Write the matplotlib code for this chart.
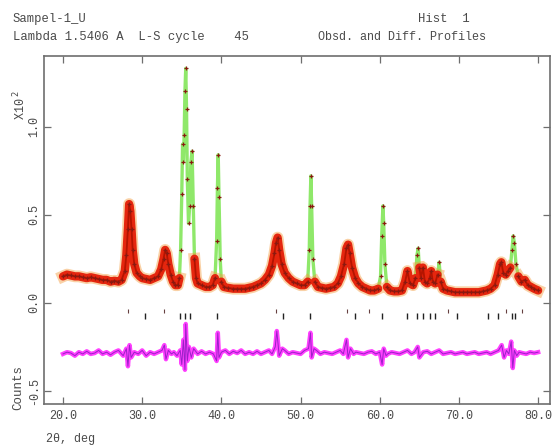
import numpy as np
import matplotlib
matplotlib.use("Agg")
import matplotlib.pyplot as plt

# ---- data (2theta in deg, intensity in units of 10^2 counts) ----
obs_tt = [20.0, 20.5, 21.0, 21.5, 22.0, 22.5, 23.0, 23.5, 24.0, 24.5, 25.0, 25.5, 26.0, 26.5, 27.0, 27.4,
          27.8, 28.0, 28.2, 28.35, 28.5, 28.65, 28.8, 29.0, 29.3, 29.7, 30.0, 30.5, 31.0, 31.5, 32.0, 32.4,
          32.7, 32.9, 33.1, 33.3, 33.6, 33.9, 34.2, 34.5, 34.7, 34.85, 35.0, 35.1, 35.2, 35.3, 35.4, 35.5,
          35.6, 35.7, 35.85, 36.0, 36.15, 36.3, 36.45, 36.6, 36.8, 37.0, 37.5, 38.0, 38.5, 38.9, 39.2, 39.4,
          39.5, 39.6, 39.7, 39.85, 40.0, 40.3, 40.8, 41.5, 42.0, 42.5, 43.0, 43.5, 44.0, 44.5, 45.0, 45.5,
          46.0, 46.4, 46.7, 46.9, 47.1, 47.3, 47.6, 48.0, 48.5, 49.0, 49.5, 50.0, 50.5, 50.9, 51.1, 51.2,
          51.3, 51.4, 51.55, 51.8, 52.2, 52.7, 53.2, 53.7, 54.2, 54.7, 55.1, 55.5, 55.8, 56.0, 56.2, 56.5,
          56.9, 57.3, 57.8, 58.3, 58.8, 59.3, 59.8, 60.1, 60.25, 60.4, 60.5, 60.65, 60.9, 61.3, 61.8, 62.3,
          62.8, 63.2, 63.5, 63.8, 64.2, 64.5, 64.7, 64.85, 65.0, 65.2, 65.45, 65.7, 66.0, 66.3, 66.5, 66.7,
          67.0, 67.3, 67.5, 67.7, 68.0, 68.5, 69.0, 69.5, 70.0, 70.5, 71.0, 71.5, 72.0, 72.5, 73.0, 73.5,
          74.0, 74.5, 74.9, 75.2, 75.35, 75.6, 75.9, 76.2, 76.5, 76.7, 76.85, 77.0, 77.2, 77.5, 77.9, 78.3,
          78.7, 79.1, 79.5, 80.0]
obs_y = [0.15, 0.16, 0.155, 0.15, 0.15, 0.145, 0.14, 0.145, 0.14, 0.135, 0.13, 0.13, 0.12, 0.125, 0.12, 0.13,
         0.18, 0.27, 0.42, 0.56, 0.52, 0.42, 0.30, 0.22, 0.17, 0.15, 0.14, 0.135, 0.13, 0.14, 0.15, 0.19,
         0.25, 0.30, 0.28, 0.22, 0.16, 0.12, 0.10, 0.10, 0.14, 0.30, 0.62, 0.90, 0.80, 0.95, 1.20, 1.33,
         1.10, 0.70, 0.45, 0.55, 0.80, 0.86, 0.55, 0.25, 0.14, 0.11, 0.10, 0.09, 0.09, 0.10, 0.14, 0.35,
         0.65, 0.84, 0.60, 0.25, 0.12, 0.09, 0.085, 0.08, 0.08, 0.08, 0.08, 0.085, 0.09, 0.10, 0.11, 0.13,
         0.16, 0.21, 0.28, 0.34, 0.37, 0.30, 0.22, 0.17, 0.14, 0.12, 0.11, 0.10, 0.10, 0.12, 0.30, 0.55,
         0.72, 0.55, 0.25, 0.12, 0.09, 0.085, 0.08, 0.085, 0.09, 0.11, 0.15, 0.22, 0.31, 0.33, 0.28, 0.20,
         0.14, 0.11, 0.09, 0.08, 0.07, 0.07, 0.08, 0.15, 0.38, 0.55, 0.45, 0.22, 0.09, 0.07, 0.065, 0.065,
         0.07, 0.12, 0.18, 0.11, 0.10, 0.14, 0.27, 0.31, 0.20, 0.14, 0.20, 0.12, 0.11, 0.14, 0.18, 0.12,
         0.11, 0.16, 0.23, 0.12, 0.08, 0.07, 0.065, 0.06, 0.06, 0.06, 0.06, 0.06, 0.06, 0.06, 0.065, 0.07,
         0.08, 0.10, 0.16, 0.22, 0.23, 0.17, 0.16, 0.18, 0.20, 0.30, 0.38, 0.34, 0.22, 0.15, 0.12, 0.13,
         0.10, 0.09, 0.08, 0.07]

# sharp (well-resolved) peak regions shown as calculated green line with sparse crosses
sharp_ranges = [(34.6, 36.7), (39.1, 40.1), (50.8, 51.9), (59.9, 60.9), (64.4, 65.1), (67.2, 67.8), (76.4, 77.4)]

diff_tt = [20.0, 20.5, 21.0, 21.5, 22.0, 22.5, 23.0, 23.5, 24.0, 24.5, 25.0, 25.5, 26.0, 26.5, 27.0, 27.6,
           28.0, 28.2, 28.4, 28.6, 29.0, 29.5, 30.0, 30.5, 31.0, 31.5, 32.0, 32.5, 32.8, 33.0, 33.3, 33.7,
           34.0, 34.4, 34.8, 35.0, 35.2, 35.4, 35.5, 35.7, 35.9, 36.2, 36.5, 37.0, 37.5, 38.0, 38.5, 39.0,
           39.4, 39.55, 39.7, 40.0, 40.5, 41.0, 41.5, 42.0, 42.5, 43.0, 43.5, 44.0, 44.5, 45.0, 45.5, 46.0,
           46.4, 46.8, 47.0, 47.3, 47.7, 48.0, 48.5, 49.0, 49.5, 50.0, 50.5, 51.0, 51.25, 51.4, 51.7, 52.0,
           52.5, 53.0, 53.5, 54.0, 54.5, 55.0, 55.4, 55.8, 56.0, 56.3, 56.7, 57.0, 57.5, 58.0, 58.5, 59.0,
           59.5, 60.0, 60.3, 60.5, 60.8, 61.0, 61.5, 62.0, 62.5, 63.0, 63.5, 64.0, 64.4, 64.8, 65.0, 65.5,
           66.0, 66.5, 67.0, 67.5, 68.0, 68.5, 69.0, 69.5, 70.0, 70.5, 71.0, 71.5, 72.0, 72.5, 73.0, 73.5,
           74.0, 74.5, 75.0, 75.4, 75.7, 76.0, 76.3, 76.6, 76.8, 77.0, 77.3, 77.6, 78.0, 78.5, 79.0, 79.5,
           80.0]
diff_y = [-0.29, -0.28, -0.285, -0.30, -0.28, -0.29, -0.275, -0.29, -0.285, -0.27, -0.29, -0.28, -0.295, -0.28, -0.27, -0.30,
          -0.26, -0.36, -0.24, -0.31, -0.28, -0.29, -0.27, -0.30, -0.28, -0.29, -0.28, -0.27, -0.24, -0.32, -0.27, -0.29,
          -0.28, -0.30, -0.27, -0.35, -0.21, -0.38, -0.12, -0.33, -0.25, -0.31, -0.26, -0.29, -0.275, -0.29, -0.28, -0.29,
          -0.33, -0.17, -0.31, -0.28, -0.27, -0.29, -0.275, -0.285, -0.27, -0.29, -0.28, -0.29, -0.275, -0.29, -0.28, -0.27,
          -0.29, -0.25, -0.16, -0.30, -0.26, -0.27, -0.29, -0.28, -0.285, -0.29, -0.27, -0.26, -0.17, -0.31, -0.26, -0.27,
          -0.29, -0.28, -0.285, -0.29, -0.28, -0.27, -0.29, -0.21, -0.31, -0.26, -0.29, -0.28, -0.285, -0.29, -0.28, -0.275,
          -0.29, -0.28, -0.35, -0.26, -0.30, -0.29, -0.28, -0.285, -0.29, -0.28, -0.27, -0.29, -0.28, -0.25, -0.31, -0.28,
          -0.275, -0.29, -0.28, -0.27, -0.29, -0.285, -0.28, -0.29, -0.285, -0.28, -0.29, -0.285, -0.28, -0.29, -0.285, -0.28,
          -0.29, -0.28, -0.27, -0.24, -0.31, -0.27, -0.29, -0.22, -0.37, -0.27, -0.30, -0.28, -0.285, -0.29, -0.28, -0.285,
          -0.28]

refl_a = [28.2, 32.8, 46.9, 55.9, 58.6, 68.6, 75.9, 78.0]
refl_b = [30.4, 34.8, 35.4, 36.1, 39.5, 47.8, 51.2, 56.9, 60.3, 63.5, 64.7, 65.5, 66.4, 67.0, 69.8, 73.7, 74.9, 76.7, 77.1]

xticks = [20.0, 30.0, 40.0, 50.0, 60.0, 70.0, 80.0]
yticks = [-0.5, 0.0, 0.5, 1.0]

title_left1 = "Sampel-1_U"
title_left2 = "Lambda 1.5406 A  L-S cycle    45"
title_right1 = "Hist  1"
title_right2 = "Obsd. and Diff. Profiles"

FONT = "Liberation Mono"
GRAY = "#6e6e6e"
TXT = "#4a4a4a"

fig = plt.figure(figsize=(5.55, 4.45), dpi=100)
ax = fig.add_axes([44/555, 1 - 404/445, (550-44)/555, (404-56)/445])
ax.set_xlim(17.6, 81.5)
ax.set_ylim(-0.574, 1.40)

tt = np.array(obs_tt)
yy = np.array(obs_y)
band = yy.copy()
for a, b in sharp_ranges:
    band[(tt > a + 0.15) & (tt < b - 0.15)] = np.nan

# calculated profile (green)
ax.plot(tt, yy, color="#8fe86a", lw=2.4, zorder=2)
# observed band (dense red crosses) with fuzzy orange fringe
ax.plot(tt, band, color="#f39a3a", lw=8.5, alpha=0.45, solid_joinstyle="round", zorder=2.5)
ax.plot(tt, band, color="#e5260e", lw=6, solid_capstyle="round", solid_joinstyle="round", zorder=3)
ax.plot(tt, band, color="#b41400", lw=1.3, zorder=4)
# observed crosses
ax.plot(tt, yy, ls="none", marker="+", ms=3.5, mew=0.9, color="#8a1a10", zorder=5)

# reflection markers
ax.plot(refl_a, [-0.045] * len(refl_a), ls="none", marker="|", ms=3, mew=0.8, color="#664040")
ax.plot(refl_b, [-0.075] * len(refl_b), ls="none", marker="|", ms=4, mew=1.0, color="#222222")

# difference curve
ax.plot(diff_tt, diff_y, color="#ff40ff", lw=3.2, zorder=3)
ax.plot(diff_tt, diff_y, color="#9a20c8", lw=0.7, zorder=4)

for s in ax.spines.values():
    s.set_color(GRAY)
    s.set_linewidth(1.2)
ax.set_xticks(xticks)
ax.set_yticks(yticks)
ax.tick_params(direction="in", length=5, width=0.9, color=GRAY, top=True, right=True,
               labelsize=8.5, labelcolor=TXT)
ax.set_xticklabels([f"{v:.1f}" for v in xticks], family=FONT)
ax.set_yticklabels([f"{v:.1f}" for v in yticks], family=FONT, rotation=90, va="center")
ax.tick_params(axis="x", pad=4)
ax.tick_params(axis="y", pad=3)

fig.text(13/555, 1 - 22/445, title_left1, family=FONT, fontsize=8.8, color=TXT)
fig.text(13/555, 1 - 40/445, title_left2, family=FONT, fontsize=8.8, color=TXT)
fig.text(418/555, 1 - 22/445, title_right1, family=FONT, fontsize=8.8, color=TXT)
fig.text(318/555, 1 - 40/445, title_right2, family=FONT, fontsize=8.5, color=TXT)
fig.text(20/555, 1 - 105/445, r"X10$^{\ 2}$", family=FONT, fontsize=8.5, color=TXT,
         rotation=90, ha="center", va="center")
fig.text(18/555, 1 - 388/445, "Counts", family=FONT, fontsize=9, color=TXT,
         rotation=90, ha="center", va="center")
fig.text(46/555, 1 - 442/445, "2θ, deg", family=FONT, fontsize=8.5, color=TXT)

fig.savefig("out.png", dpi=100)
